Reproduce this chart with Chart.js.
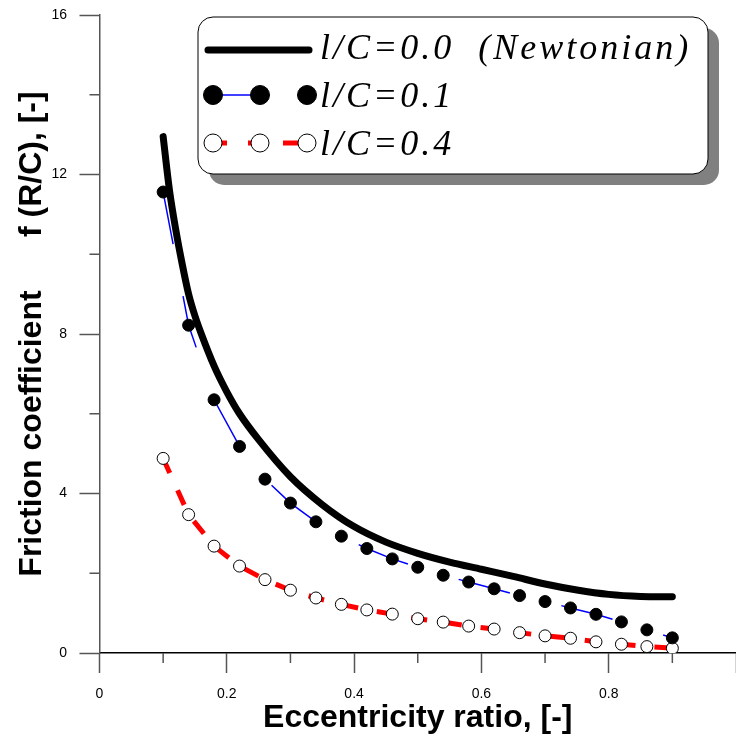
<!DOCTYPE html>
<html>
<head>
<meta charset="utf-8">
<script src="https://cdn.jsdelivr.net/npm/chart.js@4.4.0/dist/chart.umd.min.js"></script>
<style>
  html, body { margin: 0; padding: 0; background: #fff; }
  canvas { display: block; }
</style>
</head>
<body>
<canvas id="frictionChart" width="736" height="737"></canvas>
<script>
// eccentricity ratios of the computed cases
const eccentricity = [0.10, 0.14, 0.18, 0.22, 0.26, 0.30, 0.34, 0.38, 0.42, 0.46, 0.50,
                      0.54, 0.58, 0.62, 0.66, 0.70, 0.74, 0.78, 0.82, 0.86, 0.90];
// friction coefficient f(R/C) for couple stress parameter l/C = 0.1 and 0.4
const frictionLC01 = [11.56, 8.22, 6.35, 5.18, 4.36, 3.76, 3.29, 2.93, 2.62, 2.36, 2.15,
                      1.95, 1.78, 1.61, 1.44, 1.29, 1.13, 0.97, 0.78, 0.58, 0.38];
const frictionLC04 = [4.88, 3.47, 2.68, 2.18, 1.84, 1.575, 1.38, 1.22, 1.08, 0.975, 0.86,
                      0.775, 0.675, 0.60, 0.51, 0.43, 0.37, 0.28, 0.22, 0.16, 0.12];
// Newtonian reference curve
const newtonEcc = [0.10, 0.11, 0.12, 0.13, 0.14, 0.15, 0.16, 0.18, 0.20, 0.22, 0.25, 0.30,
                   0.35, 0.40, 0.45, 0.50, 0.55, 0.60, 0.65, 0.70, 0.75, 0.80, 0.85, 0.90];
const newtonFriction = [12.95, 11.6, 10.6, 9.75, 9.0, 8.45, 8.0, 7.2, 6.55, 6.0, 5.35, 4.42,
                        3.72, 3.17, 2.78, 2.5, 2.28, 2.1, 1.92, 1.73, 1.58, 1.47, 1.42, 1.41];
const legendLabels = ['l/C=0.0  (Newtonian)', 'l/C=0.1', 'l/C=0.4'];

const sansFont = '"Liberation Sans", Arial, sans-serif';
const xMajor = v => Math.round(v * 10) % 2 === 0;
const yMajor = v => Math.round(v) % 4 === 0;

function toPoints(xs, ys) {
    return xs.map((x, i) => ({ x: x, y: ys[i] }));
}

// half-length ticks between the labelled ones
const minorTicks = {
    id: 'minorTicks',
    afterDraw(chart) {
        const { ctx, scales: { x, y } } = chart;
        ctx.save();
        ctx.strokeStyle = '#555';
        ctx.lineWidth = 1.5;
        ctx.beginPath();
        x.ticks.forEach(t => {
            if (xMajor(t.value)) return;
            const px = x.getPixelForValue(t.value);
            ctx.moveTo(px, x.top);
            ctx.lineTo(px, x.top + 10);
        });
        y.ticks.forEach(t => {
            if (yMajor(t.value)) return;
            const py = y.getPixelForValue(t.value);
            ctx.moveTo(y.right, py);
            ctx.lineTo(y.right - 10, py);
        });
        ctx.stroke();
        ctx.restore();
    }
};

function roundedBox(ctx, x, y, w, h, r) {
    ctx.beginPath();
    ctx.moveTo(x + r, y);
    ctx.arcTo(x + w, y, x + w, y + h, r);
    ctx.arcTo(x + w, y + h, x, y + h, r);
    ctx.arcTo(x, y + h, x, y, r);
    ctx.arcTo(x, y, x + w, y, r);
    ctx.closePath();
}

function marker(ctx, x, y, r, fill) {
    ctx.beginPath();
    ctx.arc(x, y, r, 0, Math.PI * 2);
    ctx.fillStyle = fill;
    ctx.fill();
    ctx.lineWidth = 1;
    ctx.strokeStyle = '#000';
    ctx.stroke();
}

// framed legend with drop shadow
const boxLegend = {
    id: 'boxLegend',
    afterDraw(chart) {
        const ctx = chart.ctx;
        const bx = 198, by = 17, bw = 510, bh = 157;
        ctx.save();
        roundedBox(ctx, bx + 11, by + 11, bw, bh, 15);
        ctx.fillStyle = '#808080';
        ctx.fill();
        roundedBox(ctx, bx, by, bw, bh, 15);
        ctx.fillStyle = '#fff';
        ctx.fill();
        ctx.strokeStyle = '#000';
        ctx.lineWidth = 1;
        ctx.stroke();

        // row 1: thick black line
        ctx.beginPath();
        ctx.moveTo(208, 50);
        ctx.lineTo(309, 50);
        ctx.strokeStyle = '#000';
        ctx.lineWidth = 7;
        ctx.lineCap = 'round';
        ctx.stroke();

        // row 2: filled markers with thin blue line
        ctx.beginPath();
        ctx.moveTo(213, 95);
        ctx.lineTo(260, 95);
        ctx.strokeStyle = '#0000ff';
        ctx.lineWidth = 1.5;
        ctx.lineCap = 'butt';
        ctx.stroke();
        [213, 260, 307].forEach(x => marker(ctx, x, 95, 9.5, '#000'));

        // row 3: open markers with red dashes
        ctx.strokeStyle = '#ff0000';
        ctx.lineWidth = 5;
        [[220, 227], [248, 252], [283, 298]].forEach(s => {
            ctx.beginPath();
            ctx.moveTo(s[0], 143);
            ctx.lineTo(s[1], 143);
            ctx.stroke();
        });
        [213, 260, 307].forEach(x => marker(ctx, x, 143, 9, '#fff'));

        ctx.fillStyle = '#000';
        ctx.font = 'italic 36px "Liberation Serif", serif';
        ctx.letterSpacing = '3px';
        ctx.textBaseline = 'alphabetic';
        ctx.fillText(legendLabels[0], 320, 59);
        ctx.fillText(legendLabels[1], 320, 107);
        ctx.fillText(legendLabels[2], 320, 155);
        ctx.restore();
    }
};

new Chart(document.getElementById('frictionChart'), {
    type: 'line',
    data: {
        datasets: [{
            label: legendLabels[0],
            data: toPoints(newtonEcc, newtonFriction),
            borderColor: '#000',
            borderWidth: 7,
            pointRadius: 0,
            cubicInterpolationMode: 'monotone',
            borderCapStyle: 'round',
            borderJoinStyle: 'round'
        }, {
            label: legendLabels[1],
            data: toPoints(eccentricity, frictionLC01),
            borderColor: '#0000ff',
            borderWidth: 1.5,
            borderDash: [53, 53],
            pointRadius: 6,
            pointBackgroundColor: '#000',
            pointBorderColor: '#000',
            pointBorderWidth: 1
        }, {
            label: legendLabels[2],
            data: toPoints(eccentricity, frictionLC04),
            borderColor: '#ff0000',
            borderWidth: 5,
            borderDash: [16, 19],
            pointRadius: 6,
            pointBackgroundColor: '#fff',
            pointBorderColor: '#000',
            pointBorderWidth: 1
        }]
    },
    options: {
        responsive: false,
        animation: false,
        devicePixelRatio: 1,
        events: [],
        layout: { autoPadding: false, padding: { left: 4, top: 15, right: -3.5, bottom: 0 } },
        plugins: {
            legend: { display: false },
            tooltip: { enabled: false }
        },
        scales: {
            x: {
                type: 'linear',
                min: 0,
                max: 1,
                border: { color: '#000', width: 1.5 },
                grid: {
                    drawOnChartArea: false,
                    tickLength: 20,
                    tickWidth: 1.5,
                    tickColor: c => xMajor(c.tick.value) ? '#555' : 'rgba(0,0,0,0)'
                },
                ticks: {
                    stepSize: 0.1,
                    autoSkip: false,
                    maxRotation: 0,
                    padding: 13,
                    color: '#000',
                    font: { family: sansFont, size: 14 },
                    callback: v => (xMajor(v) && v < 0.95) ? String(Math.round(v * 10) / 10) : ''
                },
                title: {
                    display: true,
                    text: 'Eccentricity ratio, [-]',
                    color: '#000',
                    font: { family: sansFont, size: 32, weight: 'bold', lineHeight: 1.1 },
                    padding: { top: 0, bottom: 1 }
                },
                afterFit: scale => {
                    scale.height = 84;
                    scale.paddingLeft = 0;
                    scale.paddingRight = -3.5;
                }
            },
            y: {
                min: 0,
                max: 16,
                border: { color: '#555', width: 1.5 },
                grid: {
                    drawOnChartArea: false,
                    tickLength: 20,
                    tickWidth: 1.5,
                    tickColor: c => yMajor(c.tick.value) ? '#555' : 'rgba(0,0,0,0)'
                },
                ticks: {
                    stepSize: 2,
                    autoSkip: false,
                    padding: 12.5,
                    color: '#000',
                    font: { family: sansFont, size: 14 },
                    callback: v => yMajor(v) ? String(v) : ''
                },
                title: {
                    display: true,
                    text: 'Friction coefficient      f (R/C), [-]',
                    color: '#000',
                    font: { family: sansFont, size: 32, weight: 'bold', lineHeight: 1.2 },
                    padding: { top: 9, bottom: 0 }
                },
                afterFit: scale => {
                    scale.width = 95.5;
                    scale.paddingTop = 0;
                    scale.paddingBottom = 0;
                    scale.paddingRight = -3.5;
                }
            }
        }
    },
    plugins: [minorTicks, boxLegend]
});
</script>
</body>
</html>
